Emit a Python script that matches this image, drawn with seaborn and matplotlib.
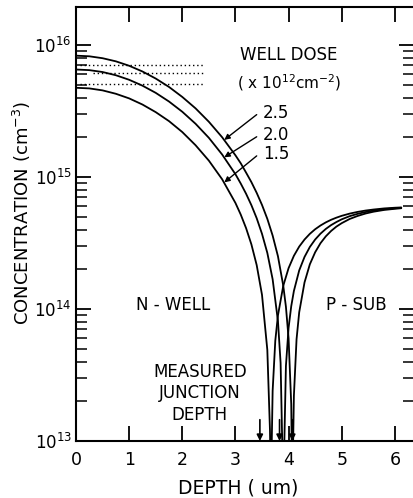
import matplotlib
matplotlib.use("Agg")
import matplotlib.pyplot as plt
import seaborn as sns
import pandas as pd
from matplotlib.ticker import LogLocator, NullFormatter, FixedLocator, FixedFormatter

# ---- data (concentration in 1e15 cm^-3) ----
depth_25 = [0, 0.25, 0.5, 0.75, 1.0, 1.25, 1.5, 1.75, 2.0, 2.25, 2.5, 2.75, 3.0, 3.1, 3.2,
            3.3, 3.4, 3.5, 3.6, 3.7, 3.8, 3.9, 3.95, 4.0, 4.05, 4.07, 4.1, 4.15, 4.2, 4.3,
            4.4, 4.5, 4.6, 4.7, 4.8, 4.9, 5.0, 5.15, 5.3, 5.45, 5.6, 5.8, 6.0, 6.12]
conc_25 = [8.30, 8.21, 7.94, 7.52, 6.96, 6.30, 5.57, 4.81, 4.04, 3.31, 2.62, 2.00, 1.46, 1.27,
           1.08, 0.915, 0.758, 0.614, 0.482, 0.360, 0.251, 0.150, 0.104, 0.060, 0.019, 0.004,
           0.022, 0.059, 0.0945, 0.159, 0.218, 0.269, 0.315, 0.355, 0.390, 0.421, 0.447,
           0.481, 0.507, 0.529, 0.546, 0.563, 0.574, 0.580]
depth_20 = [0, 0.25, 0.5, 0.75, 1.0, 1.25, 1.5, 1.75, 2.0, 2.25, 2.5, 2.75, 3.0, 3.1, 3.2,
            3.3, 3.4, 3.5, 3.6, 3.7, 3.8, 3.85, 3.9, 3.95, 4.0, 4.05, 4.1, 4.2, 4.3, 4.4,
            4.5, 4.6, 4.7, 4.8, 4.9, 5.0, 5.15, 5.3, 5.45, 5.6, 5.8, 6.0, 6.12]
conc_20 = [6.52, 6.45, 6.24, 5.90, 5.45, 4.92, 4.34, 3.73, 3.12, 2.53, 1.98, 1.48, 1.05,
           0.892, 0.747, 0.612, 0.487, 0.371, 0.266, 0.168, 0.081, 0.039, 0.004, 0.037,
           0.072, 0.105, 0.137, 0.196, 0.248, 0.295, 0.336, 0.372, 0.404, 0.432, 0.456,
           0.478, 0.505, 0.526, 0.543, 0.557, 0.570, 0.580, 0.584]
depth_15 = [0, 0.25, 0.5, 0.75, 1.0, 1.25, 1.5, 1.75, 2.0, 2.25, 2.5, 2.75, 3.0, 3.1, 3.2,
            3.3, 3.4, 3.5, 3.6, 3.65, 3.667, 3.7, 3.75, 3.8, 3.9, 4.0, 4.1, 4.2, 4.3, 4.4,
            4.5, 4.6, 4.7, 4.8, 4.9, 5.0, 5.15, 5.3, 5.45, 5.6, 5.8, 6.0, 6.12]
conc_15 = [4.74, 4.69, 4.53, 4.27, 3.94, 3.54, 3.10, 2.65, 2.19, 1.74, 1.33, 0.961, 0.636,
           0.519, 0.410, 0.309, 0.215, 0.128, 0.049, 0.012, 0.004, 0.024, 0.0575, 0.0895,
           0.150, 0.204, 0.253, 0.297, 0.336, 0.371, 0.402, 0.429, 0.453, 0.474, 0.492,
           0.508, 0.528, 0.544, 0.557, 0.567, 0.578, 0.585, 0.588]
doses = ["2.5", "2.0", "1.5"]

# dotted reference levels near the surface
dotted_levels = [7.05e15, 6.14e15, 5.07e15]
dotted_start = [0.08, 0.32, 0.08]
dotted_end = [2.39, 2.39, 2.39]

# measured junction depths (um)
measured_depths = [3.46, 3.83, 4.07]

# label arrow targets on each curve (x, conc) and label y positions
label_target_x = [2.79, 2.79, 2.79]
label_target_y = [1.91e15, 1.41e15, 0.91e15]
label_text_y = [3.06e15, 2.08e15, 1.49e15]

x_ticks = [0, 1, 2, 3, 4, 5, 6]
y_ticks = [1e13, 1e14, 1e15, 1e16]
y_ticklabels = ["$10^{13}$", "$10^{14}$", "$10^{15}$", "$10^{16}$"]

frames = []
for d, xs, cs in [("2.5", depth_25, conc_25), ("2.0", depth_20, conc_20), ("1.5", depth_15, conc_15)]:
    frames.append(pd.DataFrame({"depth": xs, "conc": [c * 1e15 for c in cs], "dose": d}))
df = pd.concat(frames, ignore_index=True)

sns.set_style("ticks")
plt.rcParams["font.family"] = ["DejaVu Sans"]
plt.rcParams["mathtext.default"] = "regular"
for k in ["text.color", "axes.labelcolor", "xtick.color", "ytick.color", "axes.edgecolor"]:
    plt.rcParams[k] = "black"

fig = plt.figure(figsize=(4.14, 4.98), dpi=100)
ax = fig.add_axes([76 / 414, (498 - 441) / 498, 338 / 414, 434 / 498])

sns.lineplot(data=df, x="depth", y="conc", hue="dose", units="dose", estimator=None,
             sort=False, palette=["black"] * 3, legend=False, lw=1.3, ax=ax)

ax.set_yscale("log")
ax.set_xlim(0, 6.36)
ax.set_ylim(1e13, 1.94e16)

# dotted lines
for lvl, xs, xe in zip(dotted_levels, dotted_start, dotted_end):
    ax.plot([xs, xe], [lvl, lvl], color="black", lw=1.0, ls=(0, (1, 2)))

# ticks
ax.xaxis.set_major_locator(FixedLocator(x_ticks))
ax.set_xticklabels([str(t) for t in x_ticks])
ax.yaxis.set_major_locator(FixedLocator(y_ticks))
ax.yaxis.set_major_formatter(FixedFormatter(y_ticklabels))
ax.yaxis.set_minor_locator(LogLocator(base=10, subs=range(2, 10)))
ax.yaxis.set_minor_formatter(NullFormatter())
ax.tick_params(axis="both", which="major", direction="in", length=11, width=1.3,
               top=True, right=True, color="black")
ax.tick_params(axis="y", which="major", pad=3, labelsize=12)
ax.tick_params(axis="x", which="major", pad=7, labelsize=12.5)
ax.tick_params(axis="y", which="minor", direction="in", length=8, width=1.1, right=True)
ax.tick_params(axis="x", which="minor", bottom=False, top=False)

for s in ["left", "bottom", "top"]:
    ax.spines[s].set_linewidth(1.5)
    ax.spines[s].set_color("black")
ax.spines["right"].set_visible(False)

ax.set_xlabel("DEPTH ( um)", fontsize=13.5, va="center", ha="center")
ax.xaxis.set_label_coords(0.481, -0.108)
ax.set_ylabel("CONCENTRATION (cm$^{-3}$)", fontsize=13, va="center", ha="center")
ax.yaxis.set_label_coords(-0.16, 0.525)

# annotations
ax.text(3.08, 8.4e15, "WELL DOSE", fontsize=12, va="center", ha="left")
ax.text(3.03, 5.15e15, "( x 10$^{12}$cm$^{-2}$)", fontsize=11, va="center", ha="left")
for d, tx, ty, ly in zip(doses, label_target_x, label_target_y, label_text_y):
    ax.text(3.52, ly, d, fontsize=12, va="center", ha="left")
    ax.annotate("", xy=(tx, ty), xytext=(3.40, ly * 0.97),
                arrowprops=dict(arrowstyle="-|>", color="black", lw=1.0,
                                mutation_scale=8, shrinkA=0, shrinkB=0))

ax.text(1.82, 1.08e14, "N - WELL", fontsize=12, ha="center", va="center")
ax.text(5.27, 1.08e14, "P - SUB", fontsize=12, ha="center", va="center")
ax.text(2.33, 2.31e13, "MEASURED\nJUNCTION\nDEPTH", fontsize=12, ha="center", va="center",
        linespacing=1.25)

for xd in measured_depths:
    ax.annotate("", xy=(xd, 1.0e13), xytext=(xd, 1.45e13),
                arrowprops=dict(arrowstyle="-|>", color="black", lw=1.2,
                                mutation_scale=9, shrinkA=0, shrinkB=0))

fig.savefig("out.png", dpi=100)
